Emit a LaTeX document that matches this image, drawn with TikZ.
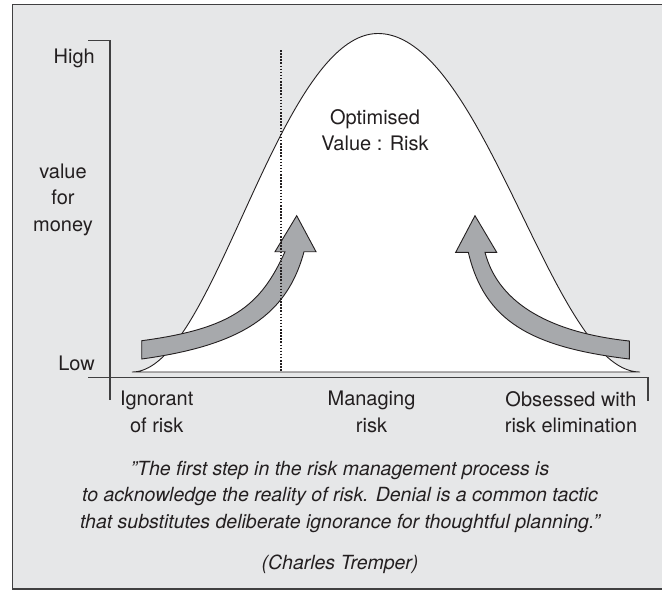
\documentclass[tikz,border=0pt]{standalone}
\usepackage{fontspec}
\setmainfont{TeX Gyre Heros}
\definecolor{bg}{HTML}{E6E7E8}
\definecolor{arrowgray}{HTML}{A7A9AC}
\definecolor{ink}{HTML}{231F20}
\definecolor{axisgray}{HTML}{404041}
\newcommand{\sq}{\symbol{34}}
\begin{document}
\begin{tikzpicture}[x=1pt,y=-1pt,
  declare function={bellc(\t)=(1+cos(\t))/2; bellf(\t)=bellc(\t)+0.17*bellc(\t)*(1-bellc(\t));},
  lbl/.style={font=\fontsize{20}{26.3}\selectfont, text=ink, align=center, inner sep=0pt},
  quote/.style={font=\fontsize{19.5}{26.3}\selectfont\itshape, text=ink, align=center, inner sep=0pt},
  frameline/.style={draw=axisgray, line width=1.3pt},
  axisline/.style={draw=axisgray, line width=1.3pt},
  curve/.style={draw=ink, fill=white, line width=0.9pt},
  dotline/.style={draw=ink, line width=1.3pt, dash pattern=on 1.5pt off 1.6pt},
  bigarrow/.style={fill=arrowgray, draw=ink, line width=0.9pt, line join=miter}]
\useasboundingbox (0,0) rectangle (662,590);
\fill[white] (0,0) rectangle (662,590);
\fill[bg] (12.5,4.7) rectangle (662,589);
\draw[frameline] (662,4.7) -- (12.5,4.7) -- (12.5,589) -- (662,589);
% bell curve
\draw[curve] plot[domain=132:378,samples=90] (\x,{372-338.5*bellf((\x-378)/246*180)})
  -- plot[domain=378:640,samples=90] (\x,{372-338.5*bellf((\x-378)/262*180)}) -- cycle;
% axes
\draw[axisline] (88,40.7) -- (110,40.7) -- (110,400);
\draw[axisline] (88,377.7) -- (648,377.7) -- (648,401);
% arrows
\draw[bigarrow] (141.7,340.7) .. controls (231.7,328.7) and (260.4,306.3) .. (285,251.7)
  -- (275,251.7) -- (296.7,215.7) -- (316,251.7) -- (304,251.7)
  .. controls (287.1,314.8) and (241.7,345.3) .. (141.7,359) -- cycle;
\draw[bigarrow] (629.3,359) .. controls (529.3,347) and (484.4,320.2) .. (468.3,252.3)
  -- (455.7,252.3) -- (475,215.7) -- (496.7,252.3) -- (485,252.3)
  .. controls (498.8,305.7) and (554.3,333) .. (629.3,341) -- cycle;
% dotted line
\draw[dotline] (281,50) -- (281,372);
% labels
\node[lbl, anchor=east] (high) at (95,58.8) {High};
\node[lbl, anchor=east] (low) at (95,363.3) {Low};
\node[lbl] (vfm) at (63,199.7) {value\\for\\money};
\node[lbl] (opt) at (375,130.2) {Optimised\\Value : Risk};
\node[lbl] (ign) at (156.7,412) {Ignorant\\of risk};
\node[lbl] (man) at (371.5,412) {Managing\\risk};
\node[lbl] (obs) at (571,412) {Obsessed with\\risk elimination};
\node[quote] (q) at (340,496.7) {\sq The first step in the risk management process is\\to acknowledge the reality of risk. Denial is a common tactic\\that substitutes deliberate ignorance for thoughtful planning.\sq};
\node[quote] (author) at (340,564.4) {(Charles Tremper)};
\end{tikzpicture}
\end{document}
